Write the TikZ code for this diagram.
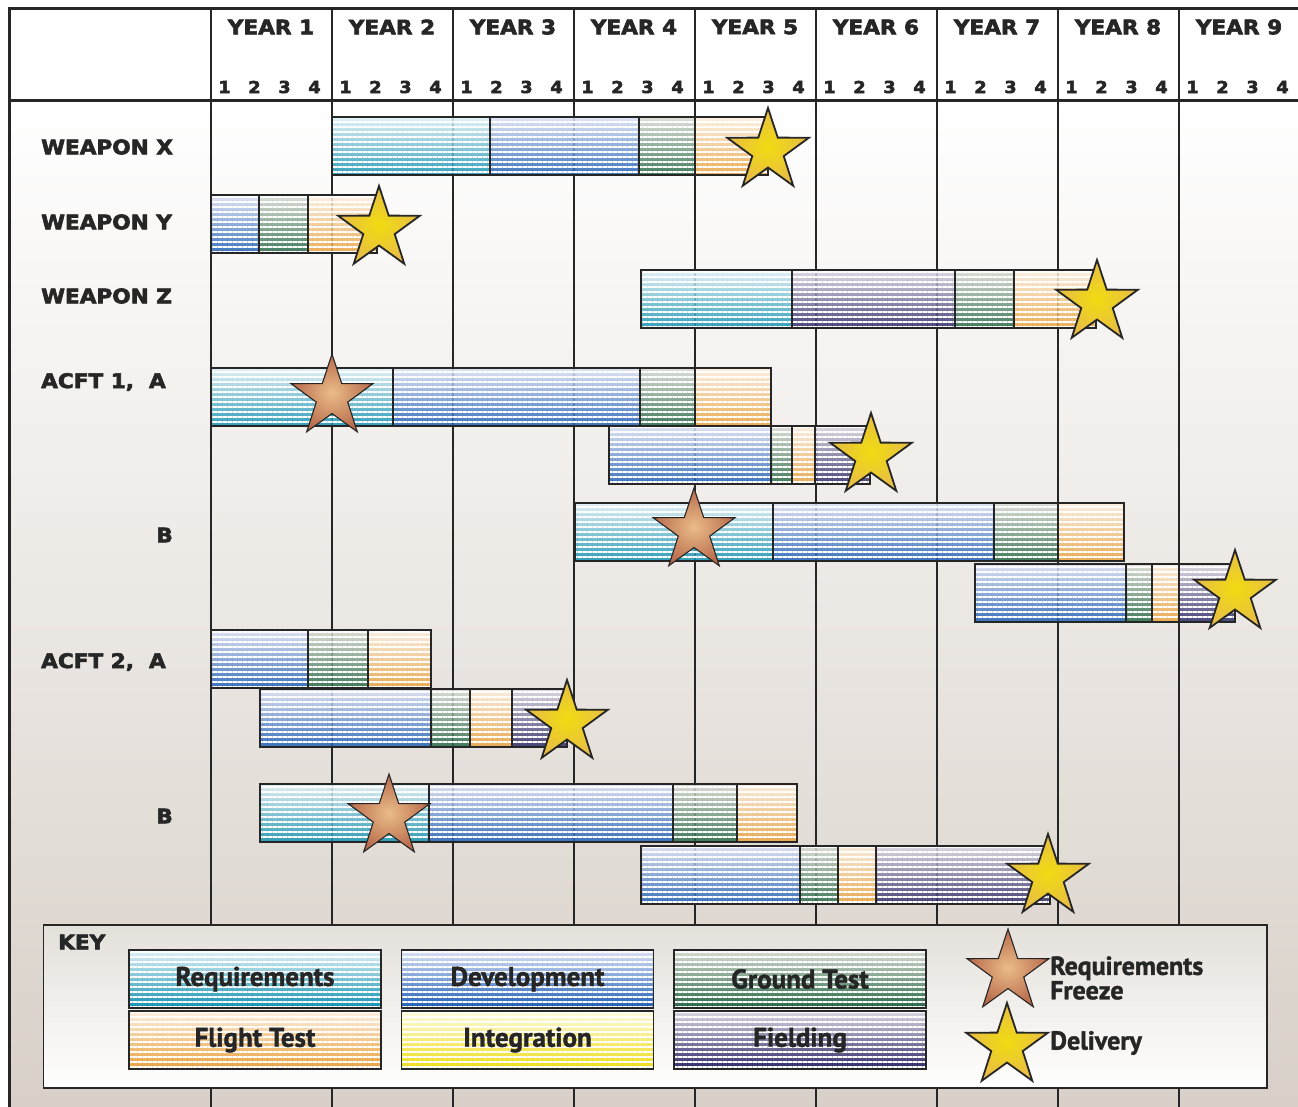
\documentclass[tikz,border=0pt]{standalone}
\usepackage{fontspec}
\newfontfamily\hdrfont[FakeStretch=1.08,FakeBold=3]{DejaVu Sans Bold}
\newfontfamily\keyfont[FakeBold=1.5]{PT Sans Bold}
\usetikzlibrary{shapes.geometric,patterns.meta}
\definecolor{linedark}{HTML}{262626}
\definecolor{bgbot}{HTML}{D8D0C8}
\definecolor{keytop}{HTML}{E4E0DA}
\definecolor{reqtop}{HTML}{E0F1F6}\definecolor{reqmid}{HTML}{7CC6DA}\definecolor{reqbot}{HTML}{1392B2}
\definecolor{devtop}{HTML}{DDE2F5}\definecolor{devmid}{HTML}{8AA2DC}\definecolor{devbot}{HTML}{1E5FB6}
\definecolor{gndtop}{HTML}{DADCD4}\definecolor{gndmid}{HTML}{8EA394}\definecolor{gndbot}{HTML}{256845}
\definecolor{flttop}{HTML}{FCEFDF}\definecolor{fltmid}{HTML}{F2CB96}\definecolor{fltbot}{HTML}{E8A23E}
\definecolor{inttop}{HTML}{FDFBE0}\definecolor{intmid}{HTML}{F6EE90}\definecolor{intbot}{HTML}{EFDD18}
\definecolor{fldtop}{HTML}{DCD6E2}\definecolor{fldmid}{HTML}{8E88AE}\definecolor{fldbot}{HTML}{2C2A68}
\definecolor{delin}{HTML}{F0DC10}\definecolor{delout}{HTML}{E8BC48}
\definecolor{frzin}{HTML}{EABC88}\definecolor{frzout}{HTML}{B86A4C}
\tikzset{
  gridline/.style={draw=linedark, line width=1.8pt},
  frameline/.style={draw=linedark, line width=3pt},
  yearlbl/.style={font=\hdrfont\fontsize{20}{24}\selectfont, text=linedark, inner sep=0pt},
  qlbl/.style={font=\hdrfont\fontsize{16.5}{20}\selectfont, text=linedark, inner sep=0pt},
  rowlbl/.style={font=\hdrfont\fontsize{20}{24}\selectfont, text=linedark, inner sep=0pt},
  stripes/.style={postaction={pattern={Lines[angle=0,distance=5pt,line width=1.6pt]}, pattern color=white, fill opacity=0.13},
    postaction={draw=linedark, line width=1.8pt}},
  seg/.style={draw=linedark, line width=1.8pt, fill opacity=0.86, stripes},
  req/.style={top color=reqtop, middle color=reqmid, bottom color=reqbot},
  dev/.style={top color=devtop, middle color=devmid, bottom color=devbot},
  gnd/.style={top color=gndtop, middle color=gndmid, bottom color=gndbot},
  flt/.style={top color=flttop, middle color=fltmid, bottom color=fltbot},
  intg/.style={top color=inttop, middle color=intmid, bottom color=intbot},
  fld/.style={top color=fldtop, middle color=fldmid, bottom color=fldbot},
  swatch/.style={draw=linedark, line width=1.8pt, minimum width=252pt, minimum height=58pt, inner sep=0pt,
    font=\keyfont\fontsize{27}{28}\selectfont, text=linedark, stripes},
  delstar/.style={star, star points=5, star point ratio=2.6, minimum size=86pt, inner sep=0pt,
    draw=linedark, line width=1.8pt, inner color=delin, outer color=delout},
  frzstar/.style={star, star points=5, star point ratio=2.6, minimum size=86pt, inner sep=0pt,
    draw=linedark, line width=1.1pt, inner color=frzin, outer color=frzout}
}
\newcommand{\seg}[4]{\draw[seg,#1] (#2,#4) rectangle (#3,#4+58);}
\begin{document}
\begin{tikzpicture}[x=1pt,y=-1pt]
\useasboundingbox (0,0) rectangle (1298,1107);
\fill[white] (0,0) rectangle (1298,1107);
\shade[top color=white, bottom color=bgbot] (9,101) rectangle (1298,1107);

\foreach \n in {1,...,9}{
  \pgfmathsetmacro\xa{211+121*(\n-1)}
  \draw[gridline] (\xa,9) -- (\xa,1107);
  \node[yearlbl] (year\n) at (\xa+60,27) {YEAR \n};
  \foreach \q in {1,...,4}
    \node[qlbl] (qtr\n\q) at (\xa+13.5+30*\q-30,87) {\q};
}
\draw[frameline] (9,1107) -- (9,9) -- (1298,9);
\draw[frameline] (9,101) -- (1298,101);

\node[rowlbl, anchor=west] (wpnx) at (41,147) {WEAPON X};
\node[rowlbl, anchor=west] (wpny) at (41,222) {WEAPON Y};
\node[rowlbl, anchor=west] (wpnz) at (41,296) {WEAPON Z};
\node[rowlbl, anchor=west] (acfta) at (41,382) {ACFT 1,\ \ A};
\node[rowlbl, anchor=east] (acftb) at (173,535) {B};
\node[rowlbl, anchor=west] (acftta) at (41,662) {ACFT 2,\ \ A};
\node[rowlbl, anchor=east] (acfttb) at (173,816) {B};

\seg{req}{332}{490}{117}\seg{dev}{490}{639}{117}\seg{gnd}{639}{695}{117}\seg{flt}{695}{768}{117}
\seg{dev}{211}{259}{195}\seg{gnd}{259}{308}{195}\seg{flt}{308}{377}{195}
\seg{req}{641}{792}{270}\seg{fld}{792}{955}{270}\seg{gnd}{955}{1014}{270}\seg{flt}{1014}{1096}{270}

\seg{req}{211}{393}{368}\seg{dev}{393}{640}{368}\seg{gnd}{640}{695}{368}\seg{flt}{695}{771}{368}
\seg{dev}{609}{771}{426}\seg{gnd}{771}{792}{426}\seg{flt}{792}{815}{426}\seg{fld}{815}{870}{426}
\seg{req}{575}{773}{503}\seg{dev}{773}{994}{503}\seg{gnd}{994}{1058}{503}\seg{flt}{1058}{1124}{503}
\seg{dev}{975}{1126}{564}\seg{gnd}{1126}{1152}{564}\seg{flt}{1152}{1179}{564}\seg{fld}{1179}{1235}{564}

\seg{dev}{211}{308}{630}\seg{gnd}{308}{368}{630}\seg{flt}{368}{431}{630}
\seg{dev}{260}{431}{689}\seg{gnd}{431}{470}{689}\seg{flt}{470}{512}{689}\seg{fld}{512}{567}{689}
\seg{req}{260}{429}{784}\seg{dev}{429}{673}{784}\seg{gnd}{673}{737}{784}\seg{flt}{737}{797}{784}
\seg{dev}{641}{800}{846}\seg{gnd}{800}{838}{846}\seg{flt}{838}{876}{846}\seg{fld}{876}{1050}{846}

\node[delstar] (delx) at (768,151) {};
\node[delstar] (dely) at (379,229) {};
\node[delstar] (delz) at (1097,303) {};
\node[frzstar] (frza) at (332,397) {};
\node[delstar] (dela) at (871,456) {};
\node[frzstar] (frzb) at (694,531) {};
\node[delstar] (delb) at (1235,593) {};
\node[delstar] (delta) at (567,723) {};
\node[frzstar] (frztb) at (389,817) {};
\node[delstar] (deltb) at (1048,877) {};

\shade[top color=keytop, bottom color=white, draw=linedark, line width=1.8pt] (43.5,925) rectangle (1267,1088);
\node[rowlbl, anchor=west] (keyttl) at (58,942) {KEY};
\node[swatch, req] (kreq) at (255,979) {Requirements};
\node[swatch, dev] (kdev) at (527.5,979) {Development};
\node[swatch, gnd] (kgnd) at (800,979) {Ground Test};
\node[swatch, flt] (kflt) at (255,1040) {Flight Test};
\node[swatch, intg] (kint) at (527.5,1040) {Integration};
\node[swatch, fld] (kfld) at (800,1040) {Fielding};
\node[frzstar] (kfrz) at (1008,972) {};
\node[delstar] (kdel) at (1007,1046) {};
\node[anchor=west, align=left, inner sep=0pt, text=linedark, font=\keyfont\fontsize{26}{22}\selectfont] (kfrzlbl) at (1050,978) {Requirements\\Freeze};
\node[anchor=west, inner sep=0pt, text=linedark, font=\keyfont\fontsize{26}{22}\selectfont] (kdellbl) at (1050,1043) {Delivery};
\end{tikzpicture}
\end{document}
